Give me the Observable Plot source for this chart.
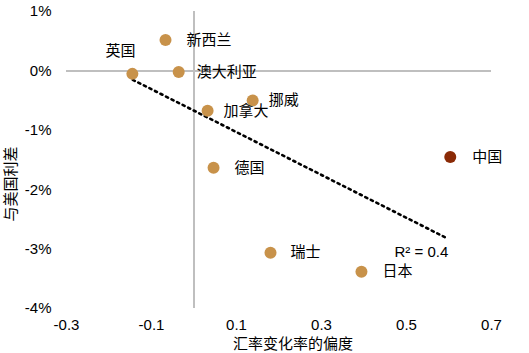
<!DOCTYPE html>
<html>
<head>
<meta charset="utf-8">
<script src="https://cdn.jsdelivr.net/npm/d3@7"></script>
<script src="https://cdn.jsdelivr.net/npm/@observablehq/plot@0.6"></script>
<style>
  html, body { margin: 0; padding: 0; background: #fff; }
  svg { display: block; }
</style>
</head>
<body>
<div id="chart"></div>
<script>
// ---- data ----
const countries = ["新西兰", "英国", "澳大利亚", "挪威", "加拿大", "德国", "中国", "瑞士", "日本"];
const skew      = [-0.067, -0.145, -0.036, 0.138, 0.032, 0.046, 0.603, 0.180, 0.394];
const spread    = [0.52, -0.05, -0.02, -0.50, -0.67, -1.63, -1.45, -3.06, -3.38];
const highlight = ["中国"];
const trendX = [-0.144, 0.596];
const trendY = [-0.15, -2.82];
const xTicks = [-0.3, -0.1, 0.1, 0.3, 0.5, 0.7];
const yTicks = [1, 0, -1, -2, -3, -4];
const r2Label = "R² = 0.4";
const xTitle = "汇率变化率的偏度";
const yTitle = "与美国利差";

// label placement (not data)
const labelDx = {"新西兰": 21, "澳大利亚": 18, "挪威": 16, "加拿大": 16, "德国": 21, "中国": 22, "瑞士": 20, "日本": 21};

const points = countries.map((c, i) => ({name: c, x: skew[i], y: spread[i]}));
const trend = trendX.map((x, i) => ({x, y: trendY[i]}));

const FONT = "'Liberation Sans', Arial, 'Noto Sans CJK SC', sans-serif";
const gold = "#C8924A", dark = "#8A2A06", grid = "#BFBFBF";

const fmt = d => String(d).replace("\u2212", "-");

const chart = Plot.plot({
  width: 529,
  height: 353,
  marginLeft: 66,
  marginRight: 38,
  marginTop: 11,
  marginBottom: 45,
  style: {fontFamily: FONT, fontSize: "15px", color: "#000", background: "#fff"},
  x: {domain: [-0.3, 0.7], ticks: xTicks, tickFormat: d => fmt(d.toFixed(1))},
  y: {domain: [-4, 1], ticks: yTicks, tickFormat: d => fmt(d) + "%"},
  marks: [
    Plot.ruleY([0], {stroke: grid, strokeWidth: 2}),
    Plot.ruleX([0], {stroke: grid, strokeWidth: 2}),
    Plot.axisX({ticks: xTicks, tickSize: 0, tickPadding: 11, label: null, fontSize: 15, tickFormat: d => fmt(d.toFixed(1))}),
    Plot.axisY({ticks: yTicks, tickSize: 0, tickPadding: 15, label: null, fontSize: 15, tickFormat: d => fmt(d) + "%"}),
    Plot.line(trend, {x: "x", y: "y", stroke: "#000", strokeWidth: 2.6, strokeDasharray: "2.2 4"}),
    Plot.dot(points, {x: "x", y: "y", r: 6, fill: d => highlight.includes(d.name) ? dark : gold, stroke: "none"}),
    Plot.text(points.filter(d => d.name !== "英国"), {
      x: "x", y: "y", text: "name", textAnchor: "start", fontSize: 15, fill: "#000",
      dx: 0
    }),
    Plot.text(points.filter(d => d.name === "英国"), {
      x: "x", y: "y", text: "name", textAnchor: "middle", fontSize: 15, fill: "#000", dx: -12, dy: -23
    }),
    Plot.text([r2Label], {
      x: trendX[1], y: -3.05, text: d => d, textAnchor: "end", fontSize: 15, fill: "#000", dx: 1
    })
  ]
});

// apply per-label horizontal offsets
const svg = d3.select(chart);
svg.selectAll("g[aria-label='text'] text").each(function() {
  const t = d3.select(this);
  const name = t.text();
  if (labelDx[name] !== undefined) {
    const tr = t.attr("transform") || "";
    t.attr("transform", tr + ` translate(${labelDx[name]},0)`);
  }
});

svg.append("text")
  .attr("x", 293).attr("y", 345)
  .attr("text-anchor", "middle").attr("dominant-baseline", "middle")
  .style("font-family", FONT).style("font-size", "15px").attr("fill", "#000")
  .text(xTitle);
svg.append("text")
  .attr("transform", "translate(12,184) rotate(-90)")
  .attr("text-anchor", "middle").attr("dominant-baseline", "middle")
  .style("font-family", FONT).style("font-size", "15px").attr("fill", "#000")
  .text(yTitle);

document.getElementById("chart").appendChild(chart);
</script>
</body>
</html>
